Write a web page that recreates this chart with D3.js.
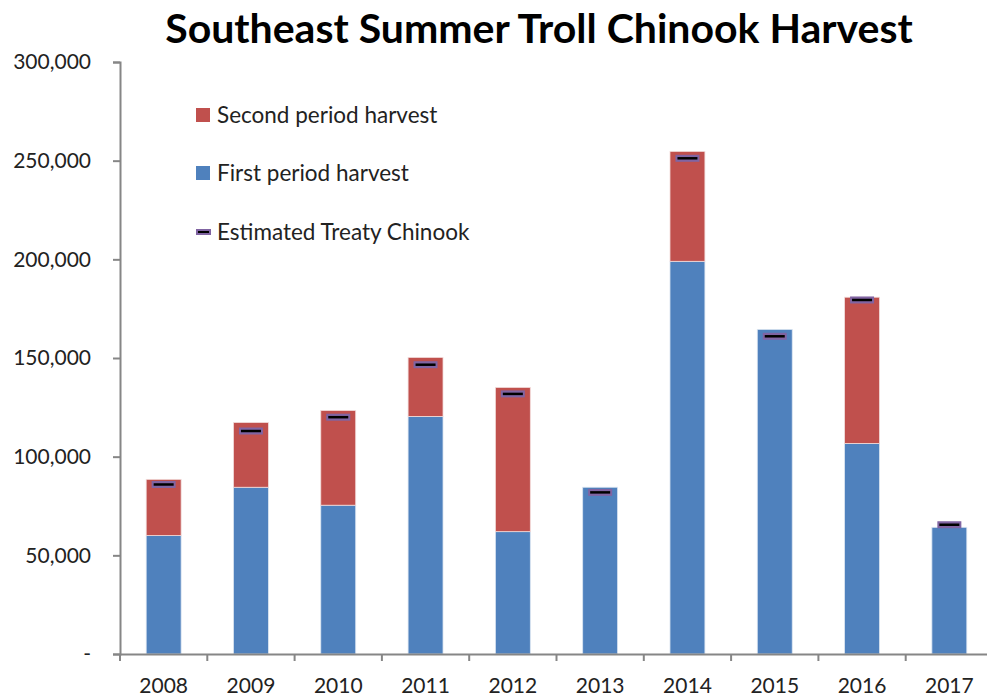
<html>
<head>
    <script src="https://d3js.org/d3.v7.min.js"></script>
    <style>
        body { margin: 0; background: #fff; }
        text { font-family: Lato, "Open Sans", sans-serif; fill: #222; }
    </style>
</head>
<body></body>
<script>

    // data
    var years = ["2008", "2009", "2010", "2011", "2012", "2013", "2014", "2015", "2016", "2017"];
    var firstPeriod = [60000, 84500, 75400, 120400, 62000, 84500, 199000, 164500, 106700, 64200];
    var secondPeriod = [28500, 32800, 48000, 29900, 73100, 0, 55700, 0, 74100, 0];
    var treaty = [85900, 113000, 120000, 146600, 131800, 81900, 251200, 161000, 179400, 65500];
    var yTicks = [0, 50000, 100000, 150000, 200000, 250000, 300000];

    var margin = { top: 62, right: -6, bottom: 44, left: 120 },
        width = 987 - margin.left - margin.right,
        height = 698 - margin.top - margin.bottom;

    var svg = d3.select("body")
        .append("svg")
        .attr("width", 987)
        .attr("height", 698);

    // title
    svg.append("text")
        .attr("x", 539)
        .attr("y", 43)
        .attr("text-anchor", "middle")
        .style("font-size", "41px")
        .style("font-weight", "bold")
        .style("fill", "#000")
        .text("Southeast Summer Troll Chinook Harvest");

    var g = svg.append("g")
        .attr("transform", "translate(" + margin.left + "," + margin.top + ")");

    var x = d3.scaleBand()
        .domain(years)
        .range([0, width])
        .paddingInner(0.6)
        .paddingOuter(0.3);

    var y = d3.scaleLinear()
        .domain([0, 300000])
        .range([height, 0]);

    var rows = years.map(function (yr, i) {
        return { year: yr, first: firstPeriod[i], second: secondPeriod[i], treaty: treaty[i] };
    });

    // bars - first period
    g.append("g")
        .selectAll("rect")
        .data(rows)
        .enter()
        .append("rect")
        .attr("x", d => x(d.year))
        .attr("y", d => y(d.first))
        .attr("width", x.bandwidth())
        .attr("height", d => y(0) - y(d.first))
        .style("fill", "#4F81BD")
        .style("stroke", "#dbe5f1")
        .style("stroke-width", 0.8);

    // bars - second period
    g.append("g")
        .selectAll("rect")
        .data(rows.filter(d => d.second > 0))
        .enter()
        .append("rect")
        .attr("x", d => x(d.year))
        .attr("y", d => y(d.first + d.second))
        .attr("width", x.bandwidth())
        .attr("height", d => y(d.first) - y(d.first + d.second))
        .style("fill", "#C0504D")
        .style("stroke", "#f2dcdb")
        .style("stroke-width", 0.8);

    // treaty markers
    var mw = 24;
    var markers = g.append("g")
        .selectAll("g")
        .data(rows)
        .enter()
        .append("g")
        .attr("transform", d => "translate(" + (x(d.year) + x.bandwidth() / 2) + "," + y(d.treaty) + ")");
    markers.append("rect")
        .attr("x", -mw / 2)
        .attr("y", -3.5)
        .attr("width", mw)
        .attr("height", 7)
        .style("fill", "#8064A2");
    markers.append("line")
        .attr("x1", -mw / 2 + 2)
        .attr("x2", mw / 2 - 2)
        .style("stroke", "#000")
        .style("stroke-width", 2.5);

    // y axis
    var yAxis = g.append("g")
        .call(d3.axisLeft(y)
            .tickValues(yTicks)
            .tickSize(7)
            .tickPadding(22)
            .tickFormat(d => d === 0 ? "-" : d3.format(",")(d)));
    yAxis.selectAll("path, line").style("stroke", "#868686").style("stroke-width", 2);
    yAxis.selectAll("text").style("font-size", "21px").style("fill", "#222")
        .style("font-family", "Lato, sans-serif");

    // x axis
    var xAxis = g.append("g")
        .attr("transform", "translate(0," + height + ")")
        .call(d3.axisBottom(x).tickSize(0).tickPadding(24));
    xAxis.select(".domain").style("stroke", "#868686").style("stroke-width", 2);
    xAxis.selectAll("text").style("font-size", "21px").style("fill", "#222")
        .style("font-family", "Lato, sans-serif");

    // category separators below x axis
    g.append("g")
        .selectAll("line")
        .data(years)
        .enter()
        .append("line")
        .attr("x1", d => x(d) - x.step() * x.paddingInner() / 2)
        .attr("x2", d => x(d) - x.step() * x.paddingInner() / 2)
        .attr("y1", height)
        .attr("y2", height + 7)
        .style("stroke", "#868686")
        .style("stroke-width", 2);

    // legend
    var legend = svg.append("g").attr("transform", "translate(196,0)");
    var items = [
        { label: "Second period harvest", color: "#C0504D", y: 115, type: "box" },
        { label: "First period harvest", color: "#4F81BD", y: 173, type: "box" },
        { label: "Estimated Treaty Chinook", color: "#8064A2", y: 232, type: "line" }
    ];
    items.forEach(function (it) {
        if (it.type === "box") {
            legend.append("rect")
                .attr("x", 0).attr("y", it.y - 7)
                .attr("width", 14).attr("height", 14)
                .style("fill", it.color);
        } else {
            legend.append("rect")
                .attr("x", 0).attr("y", it.y - 3)
                .attr("width", 15).attr("height", 6)
                .style("fill", it.color);
            legend.append("line")
                .attr("x1", 2).attr("x2", 13)
                .attr("y1", it.y).attr("y2", it.y)
                .style("stroke", "#000").style("stroke-width", 2);
        }
        legend.append("text")
            .attr("x", 21)
            .attr("y", it.y)
            .attr("dy", "0.35em")
            .style("font-size", "22.5px")
            .text(it.label);
    });

</script>
</html>
